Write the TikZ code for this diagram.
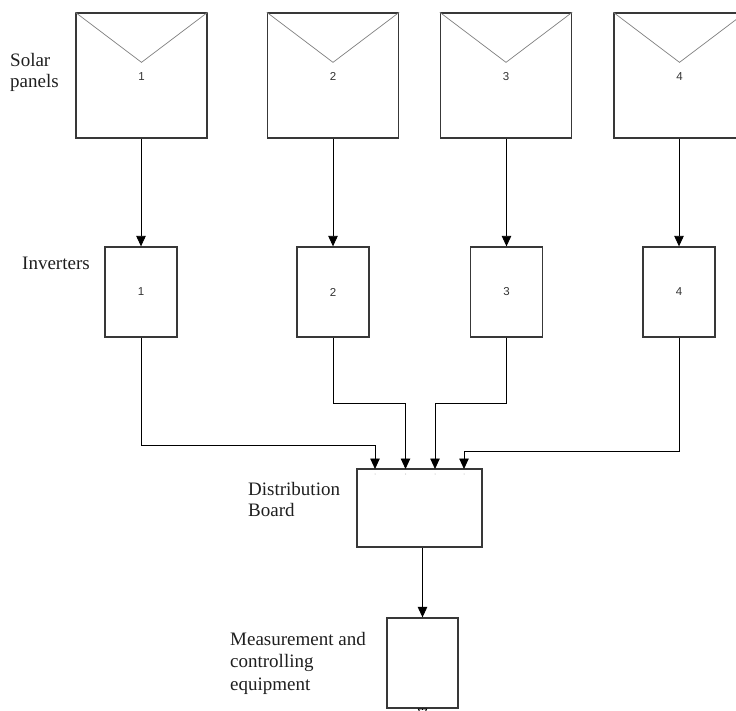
\documentclass[tikz,border=0pt]{standalone}
\usepackage{fontspec}
\setmainfont{Liberation Serif}
\newfontfamily\numfont{Liberation Sans}
\usetikzlibrary{arrows.meta,calc}
\tikzset{
  box/.style={draw=black!78, line width=1.3pt, fill=white, inner sep=0pt},
  panel/.style={box, minimum width=131pt, minimum height=125pt},
  inverter/.style={box, minimum width=72pt, minimum height=90pt},
  vline/.style={draw=black!50, line width=0.7pt},
  num/.style={font=\numfont\fontsize{11.5}{13}\selectfont, text=black!80, inner sep=0pt},
  lbl/.style={font=\fontsize{19}{21}\selectfont, align=left, anchor=north west, inner sep=0pt, text=black!88},
  arr/.style={draw=black, line width=0.9pt, -{Triangle[width=9.5pt,length=10.5pt]}},
  outarr/.style={draw=black, line width=0.9pt, -{Triangle[open,width=9.5pt,length=10.5pt]}},
  wire/.style={draw=black, line width=0.9pt},
  port/.style={circle, fill=black!35, inner sep=0pt, minimum size=1pt}
}
\begin{document}
\begin{tikzpicture}[x=1pt,y=-1pt]
\useasboundingbox (0,0) rectangle (736,711);
\fill[white] (0,0) rectangle (736,711);

% solar panels
\node[panel] (p1) at (141.5,75.5) {};
\node[panel] (p2) at (333,75.5) {};
\node[panel] (p3) at (506,75.5) {};
\node[panel] (p4) at (679.5,75.5) {};
\foreach \i in {1,2,3,4}{
  \coordinate (v\i) at ($(p\i.north)+(0,50)$);
  \draw[vline] (p\i.north west) -- (v\i) -- (p\i.north east);
  \node[num] (pn\i) at ($(p\i.north)+(0,64)$) {\i};
}

% inverters
\node[inverter] (i1) at (141,292) {};
\node[inverter] (i2) at (333,292) {};
\node[inverter] (i3) at (506.5,292) {};
\node[inverter] (i4) at (679,292) {};
\foreach \i in {1,2,3,4}{
  \node[num] (in\i) at (i\i) {\i};
  \draw[arr] (p\i.south -| i\i.north) -- (i\i.north);
}

% distribution board
\node[box, minimum width=125pt, minimum height=78pt] (db) at (419.5,508) {};
\coordinate (d1) at (375,469);
\coordinate (d2) at (405.5,469);
\coordinate (d3) at (435,469);
\coordinate (d4) at (464,469);
\foreach \i in {1,2,3,4}{
  \node[port] (pt\i) at ($(d\i)+(0,5)$) {};
}
\coordinate (j1) at (375,445);
\coordinate (j2) at (405.5,403);
\coordinate (j3) at (435,403);
\coordinate (j4) at (464,451);
\foreach \i in {1,2,3,4}{
  \draw[wire] (i\i.south) |- (j\i);
  \draw[arr] (j\i) -- (d\i);
}

% measurement
\node[box, minimum width=71pt, minimum height=90pt] (m) at (422.5,663) {};
\draw[arr] (db.south -| m.north) -- (m.north);
\coordinate (out) at (422.5,719);
\draw[outarr] (m.south) -- (out);

% labels
\node[lbl] (lsolar) at (10,53) {Solar\\panels};
\node[lbl] (linv) at (22,257) {Inverters};
\node[lbl] (ldb) at (248,482) {Distribution\\Board};
\node[lbl, font=\fontsize{19}{22.5}\selectfont] (lmeas) at (230,632) {Measurement and\\controlling\\equipment};
\end{tikzpicture}
\end{document}
